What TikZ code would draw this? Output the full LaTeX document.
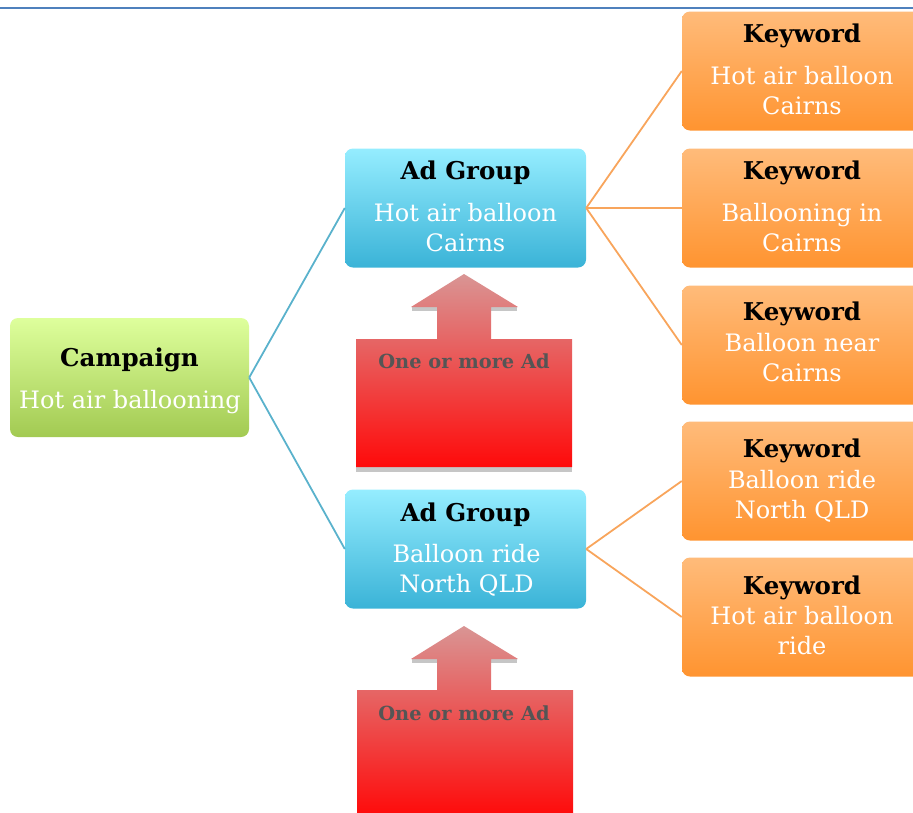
\documentclass[tikz,border=0pt]{standalone}
\usepackage{fontspec}
\setmainfont{DejaVu Serif}
\definecolor{rulecol}{HTML}{4F81BD}
\definecolor{campTop}{HTML}{DEFF9C}
\definecolor{campBot}{HTML}{A2CA52}
\definecolor{agTop}{HTML}{95EDFF}
\definecolor{agBot}{HTML}{3AB3D7}
\definecolor{kwTop}{HTML}{FFBB7A}
\definecolor{kwBot}{HTML}{FF9430}
\definecolor{arTop}{HTML}{D99594}
\definecolor{arBot}{HTML}{FF0A0A}
\definecolor{arText}{HTML}{555555}
\definecolor{blueLine}{HTML}{5AB2CC}
\definecolor{orangeLine}{HTML}{F8A55C}
\begin{document}
\begin{tikzpicture}[x=1pt,y=-1pt,
  boxbase/.style={rounded corners=8pt, inner sep=0pt, minimum height=119pt},
  campbox/.style={boxbase, minimum width=239pt, top color=campTop, bottom color=campBot},
  agbox/.style={boxbase, minimum width=241pt, top color=agTop, bottom color=agBot},
  kwbox/.style={boxbase, minimum width=243pt, top color=kwTop, bottom color=kwBot},
  ttl/.style={anchor=base, inner sep=0pt, text=black, font=\bfseries\fontsize{24.5}{28}\selectfont},
  val/.style={anchor=base, inner sep=0pt, text=white, font=\fontsize{24}{28}\selectfont},
  artxt/.style={anchor=base, inner sep=0pt, text=arText, font=\bfseries\fontsize{19.4}{23}\selectfont},
  bline/.style={draw=blueLine, line width=1.8pt},
  oline/.style={draw=orangeLine, line width=1.8pt},
  arshade/.style={top color=arTop, bottom color=arBot},
  shadowstrip/.style={fill=gray!45}
]
\useasboundingbox (0,0) rectangle (913,812);
% top rule
\draw[rulecol, line width=2.2pt] (0,8) -- (913,8);

% boxes
\node[campbox] (camp) at (129.5,377.5) {};
\node[agbox] (ag1) at (465.5,208) {};
\node[agbox] (ag2) at (465.5,549) {};
\node[kwbox] (k1) at (803.5,71) {};
\node[kwbox] (k2) at (803.5,208) {};
\node[kwbox] (k3) at (803.5,345) {};
\node[kwbox] (k4) at (803.5,481) {};
\node[kwbox] (k5) at (803.5,617) {};

% connectors
\draw[bline] (camp.east) -- (ag1.west);
\draw[bline] (camp.east) -- (ag2.west);
\draw[oline] (ag1.east) -- (k1.west);
\draw[oline] (ag1.east) -- (k2.west);
\draw[oline] (ag1.east) -- (k3.west);
\draw[oline] (ag2.east) -- (k4.west);
\draw[oline] (ag2.east) -- (k5.west);

% texts
\node[ttl] (campT) at (129.5,366) {Campaign};
\node[val] (campV) at (130,408) {Hot air ballooning};

\node[ttl] (ag1T) at (465.5,179) {Ad Group};
\node[val] (ag1V) at (465.5,221) {Hot air balloon};
\node[val] (ag1W) at (465.5,251) {Cairns};

\node[ttl] (ag2T) at (465.5,521) {Ad Group};
\node[val] (ag2V) at (466.5,562) {Balloon ride};
\node[val] (ag2W) at (466.5,592) {North QLD};

\node[ttl] (k1T) at (802,42) {Keyword};
\node[val] (k1V) at (802,84) {Hot air balloon};
\node[val] (k1W) at (802,114) {Cairns};

\node[ttl] (k2T) at (802,179) {Keyword};
\node[val] (k2V) at (802,221) {Ballooning in};
\node[val] (k2W) at (802,251) {Cairns};

\node[ttl] (k3T) at (802,320) {Keyword};
\node[val] (k3V) at (802,351) {Balloon near};
\node[val] (k3W) at (802,381) {Cairns};

\node[ttl] (k4T) at (802,457) {Keyword};
\node[val] (k4V) at (802,488) {Balloon ride};
\node[val] (k4W) at (802,518) {North QLD};

\node[ttl] (k5T) at (802,594) {Keyword};
\node[val] (k5V) at (802,624) {Hot air balloon};
\node[val] (k5W) at (802,654) {ride};

% block arrow 1
\fill[shadowstrip] (412,307) rectangle (437,311);
\fill[shadowstrip] (491,307) rectangle (517,311);
\fill[shadowstrip] (356,467) rectangle (572,472);
\shade[arshade] (464,274) -- (518,307) -- (491,307) -- (491,339) -- (572,339)
  -- (572,467) -- (356,467) -- (356,339) -- (437,339) -- (437,307) -- (411,307) -- cycle;
\node[artxt] (ar1T) at (464,368) {One or more Ad};

% block arrow 2
\fill[shadowstrip] (412,659) rectangle (437,663);
\fill[shadowstrip] (491,659) rectangle (517,663);
\shade[arshade] (464,626) -- (518,659) -- (491,659) -- (491,690) -- (573,690)
  -- (573,816) -- (357,816) -- (357,690) -- (437,690) -- (437,659) -- (411,659) -- cycle;
\node[artxt] (ar2T) at (464,720) {One or more Ad};
\end{tikzpicture}
\end{document}
